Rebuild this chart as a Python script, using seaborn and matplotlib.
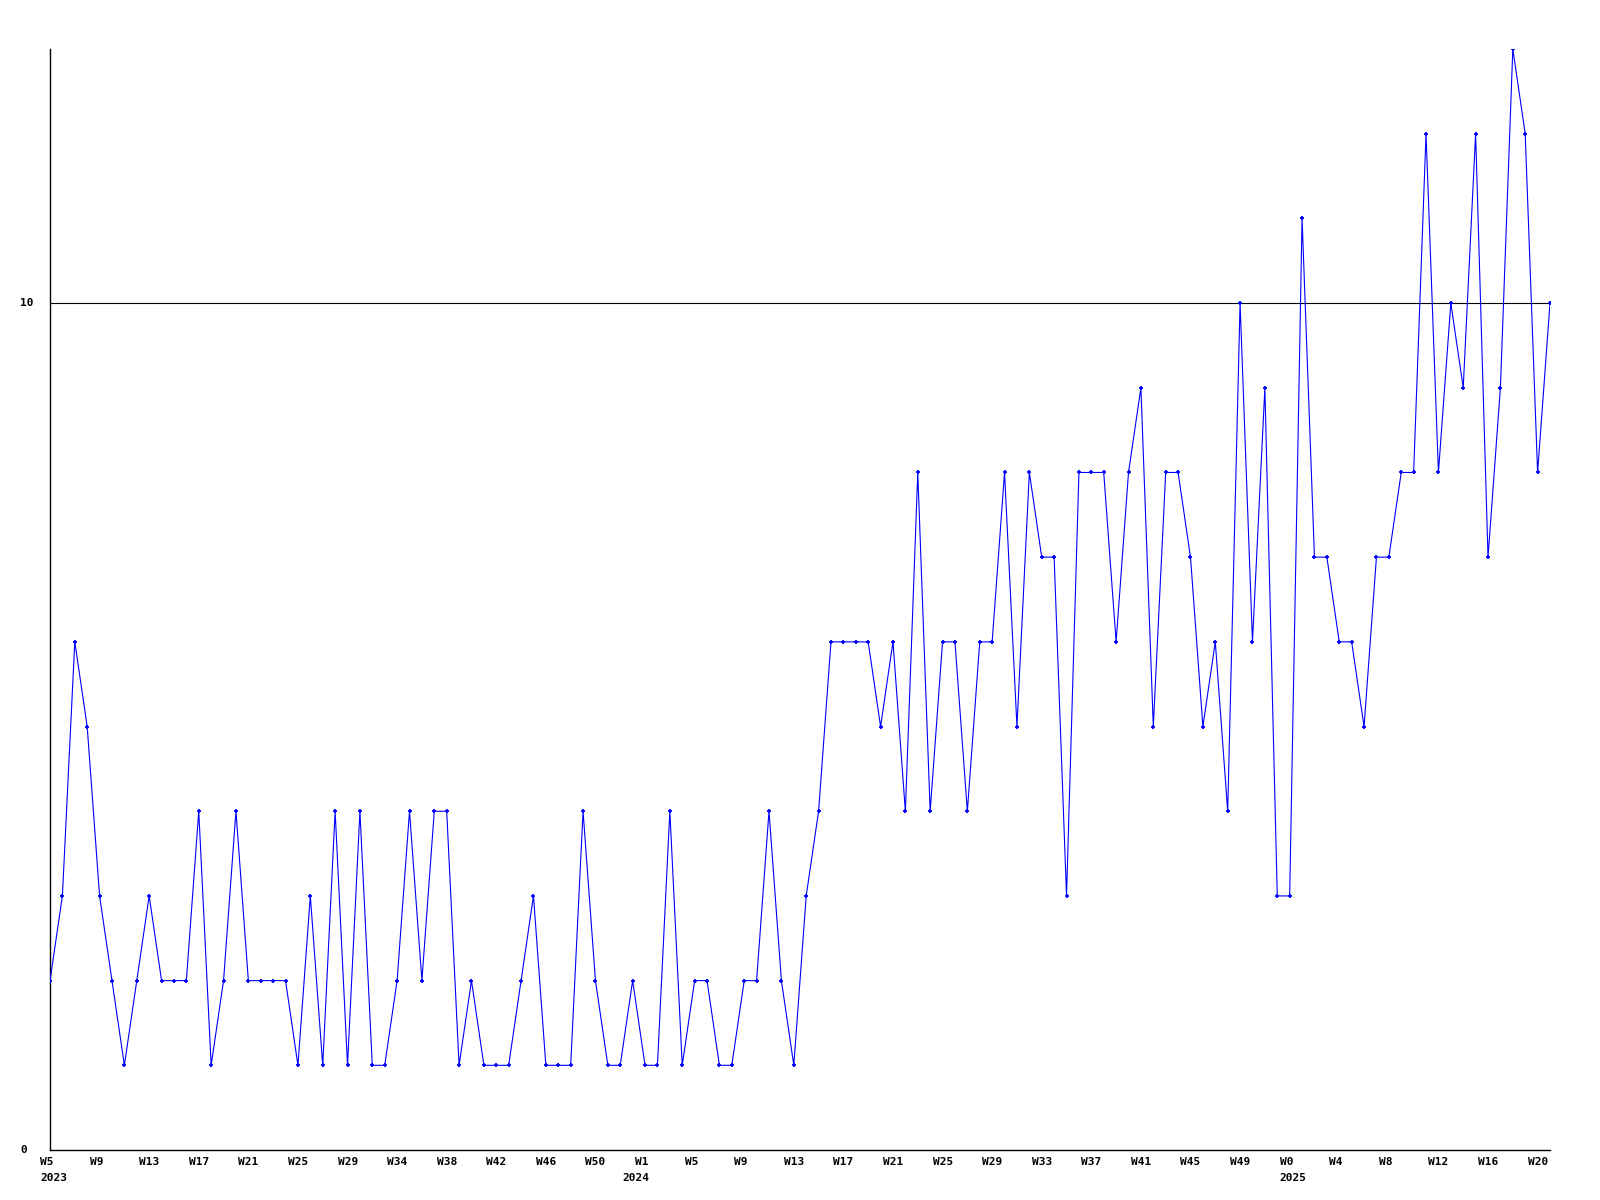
import numpy as np
import pandas as pd
import matplotlib
matplotlib.use("Agg")
import matplotlib.pyplot as plt
import matplotlib.transforms as mtransforms
import seaborn as sns

# ---- data ----
counts = [2, 3, 6, 5, 3, 2, 1, 2, 3, 2,
          2, 2, 4, 1, 2, 4, 2, 2, 2, 2,
          1, 3, 1, 4, 1, 4, 1, 1, 2, 4,
          2, 4, 4, 1, 2, 1, 1, 1, 2, 3,
          1, 1, 1, 4, 2, 1, 1, 2, 1, 1,
          4, 1, 2, 2, 1, 1, 2, 2, 4, 2,
          1, 3, 4, 6, 6, 6, 6, 5, 6, 4,
          8, 4, 6, 6, 4, 6, 6, 8, 5, 8,
          7, 7, 3, 8, 8, 8, 6, 8, 9, 5,
          8, 8, 7, 5, 6, 4, 10, 6, 9, 3,
          3, 11, 7, 7, 6, 6, 5, 7, 7, 8,
          8, 12, 8, 10, 9, 12, 7, 9, 13, 12,
          8, 10]

week_labels = ["W5", "W9", "W13", "W17", "W21", "W25", "W29", "W34", "W38",
               "W42", "W46", "W50", "W1", "W5", "W9", "W13", "W17", "W21",
               "W25", "W29", "W33", "W37", "W41", "W45", "W49", "W0", "W4",
               "W8", "W12", "W16", "W20"]
week_label_pos = list(range(0, 121, 4))
year_labels = ["2023", "2024", "2025"]
year_label_pos = [0, 47, 100]
ytick_values = [0, 10]

df = pd.DataFrame({"idx": np.arange(len(counts)), "count": counts})

sns.set_style("white")
plt.rcParams["font.family"] = ["DejaVu Sans Mono", "DejaVu Sans"]

fig = plt.figure(figsize=(16, 12), dpi=100)
ax = fig.add_axes([50 / 1600, 1 - 1150 / 1200, 1500 / 1600, 1101 / 1200])

ax.axhline(10, color="black", lw=0.8, zorder=1)
sns.lineplot(data=df, x="idx", y="count", ax=ax, color="#0000ff", lw=0.8,
             marker="+", markersize=3.5, markeredgewidth=1.3,
             markeredgecolor="#0000ff", zorder=3)

ax.set_xlim(0, len(counts) - 1)
ax.set_ylim(0, max(counts))
ax.set_xlabel("")
ax.set_ylabel("")
ax.set_xticks([])
ax.set_yticks([])
for s in ["top", "right"]:
    ax.spines[s].set_visible(False)
for s in ["left", "bottom"]:
    ax.spines[s].set_color("black")
    ax.spines[s].set_linewidth(1.0)

font_kw = dict(fontsize=8, fontweight="bold", color="black")

# y labels, left-aligned at fixed pixel x
ytrans = mtransforms.blended_transform_factory(fig.transFigure, ax.transData)
for v in ytick_values:
    ax.text(20 / 1600, v, str(v), transform=ytrans, ha="left", va="center", **font_kw)

# x labels
xtrans = mtransforms.blended_transform_factory(ax.transData, fig.transFigure)
offset = mtransforms.ScaledTranslation(-10 / 100, 0, fig.dpi_scale_trans)
for p, lab in zip(week_label_pos, week_labels):
    ax.text(p, 1 - 1162 / 1200, lab, transform=xtrans + offset,
            ha="left", va="center", **font_kw)
for p, lab in zip(year_label_pos, year_labels):
    ax.text(p, 1 - 1178 / 1200, lab, transform=xtrans + offset,
            ha="left", va="center", **font_kw)

fig.savefig("out.png", dpi=100)
